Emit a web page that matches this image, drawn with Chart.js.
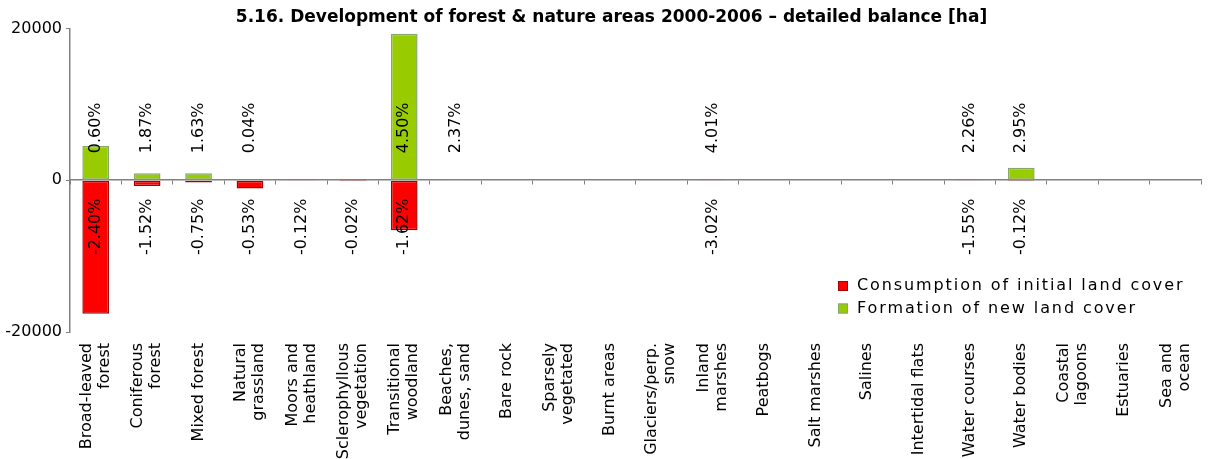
<!DOCTYPE html>
<html>
<head>
<meta charset="utf-8">
<script src="https://cdn.jsdelivr.net/npm/chart.js@4/dist/chart.umd.min.js"></script>
<style>
  body { margin: 0; background: #fff; }
  #wrap { width: 1223px; height: 459px; position: relative; }
</style>
</head>
<body>
<div id="wrap"><canvas id="chart"></canvas></div>
<script>
// カテゴリ（2行ラベル）
const categories = [
  ['Broad-leaved', 'forest'], ['Coniferous', 'forest'], 'Mixed forest', ['Natural', 'grassland'],
  ['Moors and', 'heathland'], ['Sclerophyllous', 'vegetation'], ['Transitional', 'woodland'],
  ['Beaches,', 'dunes, sand'], 'Bare rock', ['Sparsely', 'vegetated'], 'Burnt areas',
  ['Glaciers/perp.', 'snow'], ['Inland', 'marshes'], 'Peatbogs', 'Salt marshes', 'Salines',
  'Intertidal flats', 'Water courses', 'Water bodies', ['Coastal', 'lagoons'], 'Estuaries',
  ['Sea and', 'ocean']
];

// 値 [ha]
const consumption = [-17600, -750, -300, -1100, -40, -10, -6600, 0, 0, 0, 0, 0, -30, 0, 0, 0, 0, -25, -20, 0, 0, 0];
const formation = [4500, 900, 900, 20, 0, 0, 19300, 40, 0, 0, 0, 0, 30, 0, 0, 0, 0, 25, 1650, 0, 0, 0];

// パーセントラベル
const formationPct = ['0.60%', '1.87%', '1.63%', '0.04%', '', '', '4.50%', '2.37%', '', '', '', '', '4.01%', '', '', '', '', '2.26%', '2.95%', '', '', ''];
const consumptionPct = ['-2.40%', '-1.52%', '-0.75%', '-0.53%', '-0.12%', '-0.02%', '-1.62%', '', '', '', '', '', '-3.02%', '', '', '', '', '-1.55%', '-0.12%', '', '', ''];

const yTicks = [-20000, 0, 20000];

const FONT = 'DejaVu Sans';

// 1行ラベルと2行ラベルを別の軸に分ける（2行は中央寄せにするため）
const singleLabels = categories.map(c => Array.isArray(c) ? '' : c);
const multiLabels = categories.map(c => Array.isArray(c) ? c : '');

// パーセント表示（回転テキスト）
const pctLabels = {
  id: 'pctLabels',
  afterDatasetsDraw(chart) {
    const { ctx, scales: { x, y } } = chart;
    ctx.save();
    ctx.font = '16px ' + FONT;
    ctx.fillStyle = '#000';
    ctx.textAlign = 'left';
    ctx.textBaseline = 'middle';
    const drawSet = (labels, startValue) => {
      labels.forEach((txt, i) => {
        if (!txt) return;
        ctx.save();
        ctx.translate(x.getPixelForValue(i), y.getPixelForValue(startValue));
        ctx.rotate(-Math.PI / 2);
        ctx.fillText(txt, 0, 0);
        ctx.restore();
      });
    };
    drawSet(formationPct, 3550);
    drawSet(consumptionPct, -9870);
    ctx.restore();
  }
};

// 凡例（プロット内右下）
const innerLegend = {
  id: 'innerLegend',
  afterDraw(chart) {
    const { ctx } = chart;
    ctx.save();
    ctx.font = '16px ' + FONT;
    ctx.letterSpacing = '1.9px';
    ctx.textBaseline = 'middle';
    ctx.textAlign = 'left';
    chart.data.datasets.forEach((ds, i) => {
      const yy = 286 + i * 22.5;
      ctx.fillStyle = ds.backgroundColor;
      ctx.strokeStyle = ds.borderColor;
      ctx.lineWidth = 1;
      ctx.fillRect(838, yy - 5, 10, 10);
      ctx.strokeRect(838.5, yy - 4.5, 9, 9);
      ctx.fillStyle = '#000';
      ctx.fillText(ds.label, 857, yy);
    });
    ctx.restore();
  }
};

const labelAxis = (labels, offsetPx) => ({
  type: 'category',
  labels: labels,
  position: { y: -20000 },
  offset: true,
  afterFit(scale) { scale.height = 0; },
  grid: { display: false, drawTicks: false },
  border: { display: false },
  ticks: {
    autoSkip: false,
    minRotation: 90,
    maxRotation: 90,
    padding: 11,
    labelOffset: offsetPx,
    color: '#000',
    font: { family: FONT, size: 16, lineHeight: 1.125 }
  }
});

new Chart(document.getElementById('chart'), {
  type: 'bar',
  data: {
    labels: categories,
    datasets: [
      {
        label: 'Consumption of initial land cover',
        data: consumption,
        backgroundColor: '#ff0000',
        borderColor: '#a80000',
        borderWidth: 1.5,
        borderSkipped: false
      },
      {
        label: 'Formation of new land cover',
        data: formation,
        backgroundColor: '#99cc00',
        borderColor: '#86a868',
        borderWidth: 1.5,
        borderSkipped: false
      }
    ]
  },
  options: {
    responsive: true,
    maintainAspectRatio: false,
    animation: false,
    layout: { padding: { left: 0, right: 0, top: 0, bottom: 127 } },
    datasets: {
      bar: { categoryPercentage: 1, barPercentage: 0.52 }
    },
    plugins: {
      legend: { display: false },
      tooltip: { enabled: false },
      title: {
        display: true,
        text: '5.16. Development of forest & nature areas 2000-2006 \u2013 detailed balance [ha]',
        color: '#000',
        font: { family: FONT, size: 17, weight: 'bold' },
        padding: { top: 7, bottom: 1 }
      }
    },
    scales: {
      x: {
        stacked: true,
        position: { y: 0 },
        afterFit(scale) { scale.height = 0; },
        grid: { drawOnChartArea: false, drawTicks: true, tickLength: 4, color: '#808080', offset: true },
        border: { display: true, color: '#808080', width: 1.5 },
        ticks: { display: false }
      },
      xSingle: labelAxis(singleLabels, 0),
      xMulti: labelAxis(multiLabels, -9),
      y: {
        stacked: true,
        min: -20000,
        max: 20000,
        afterFit(scale) { scale.width = 70; },
        afterBuildTicks(scale) { scale.ticks = yTicks.map(v => ({ value: v })); },
        grid: { drawOnChartArea: false, drawTicks: true, tickLength: 4, color: '#808080' },
        border: { display: true, color: '#808080', width: 1.5 },
        ticks: {
          padding: 4,
          color: '#000',
          font: { family: FONT, size: 16 },
          callback: v => String(v)
        }
      }
    }
  },
  plugins: [pctLabels, innerLegend]
});
</script>
</body>
</html>
